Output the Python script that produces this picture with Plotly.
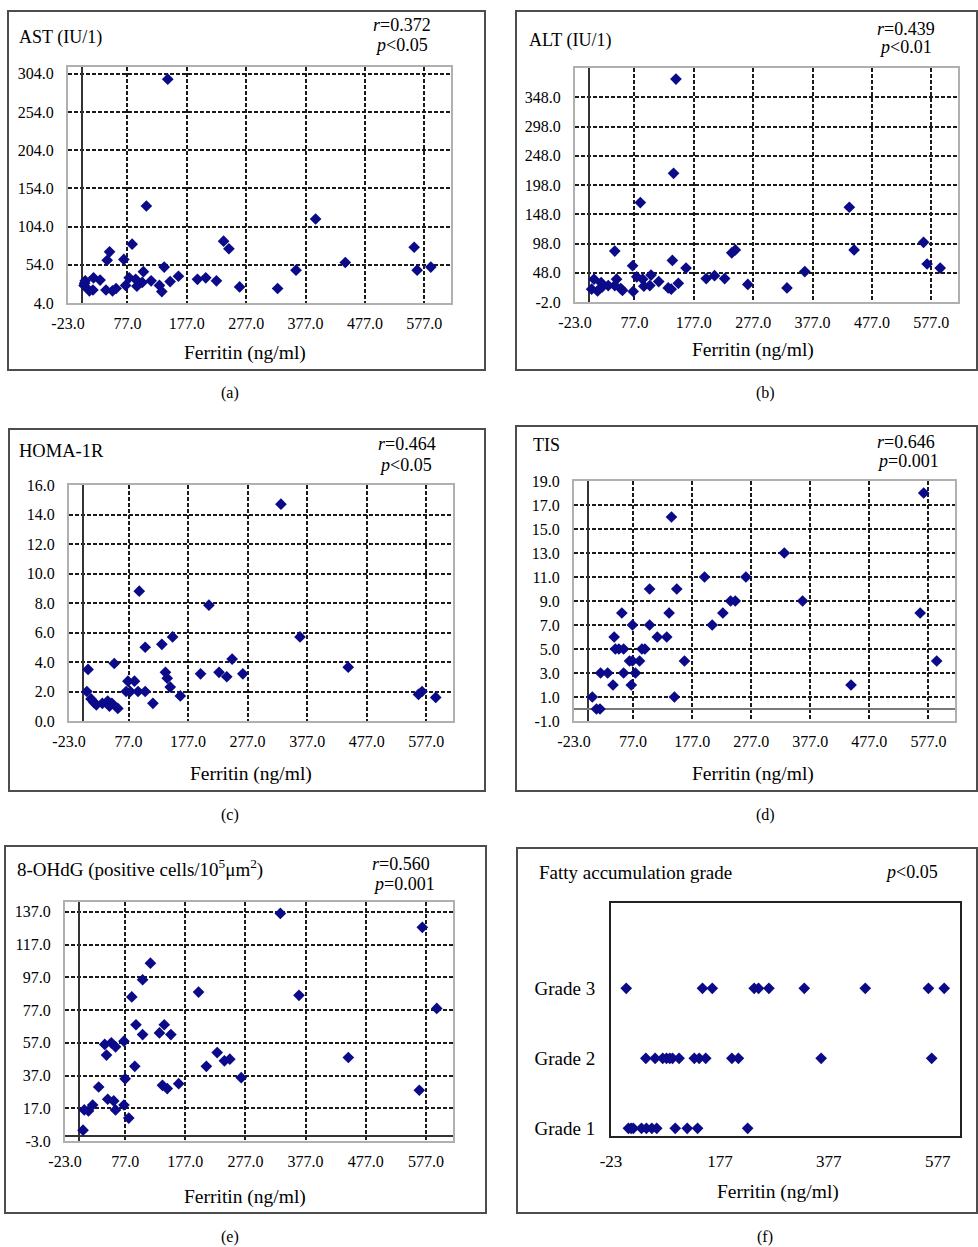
import plotly.graph_objects as go

W, H = 978, 1247
FONT = "Liberation Serif"
MARK = "#0b0b8a"

# ---------------- data ----------------
x_ticks = [-23, 77, 177, 277, 377, 477, 577]

ast_ferritin = [145, 109, 394, 85, 47, 43, 71, 239, 248, 560, 444, 139, 361, 565, 588, 163, 149, 195, 209, 227,
                266, 330, 104, 80, 91, 102, 117, 93, 74, 131, 135, 20, 31, 6, 4, 13, 19, 41, 52, 58, 5]
ast_values = [297, 131, 114, 81, 71, 60, 61, 85, 75, 77, 57, 51, 47, 47, 51, 39, 32, 35, 37, 33,
              25, 23, 45, 37, 35, 31, 33, 26, 27, 27, 19, 37, 34, 33, 27, 20, 21, 21, 20, 23, 30]
ast_ticks = [4, 54, 104, 154, 204, 254, 304]

alt_ferritin = [147, 143, 87, 439, 564, 447, 247, 241, 44, 141, 570, 592, 164, 74, 364, 198, 212, 229, 268, 334,
                151, 134, 139, 105, 118, 81, 91, 93, 103, 75, 47, 44, 54, 57, 33, 21, 9, 5, 15, 23]
alt_values = [379, 218, 168, 160, 100, 87, 87, 82, 85, 69, 63, 56, 56, 60, 50, 38, 43, 38, 28, 22,
              30, 22, 20, 44, 33, 41, 37, 25, 26, 16, 37, 26, 21, 18, 26, 31, 37, 20, 17, 24]
alt_ticks = [-2, 48, 98, 148, 198, 248, 298, 348]

homa_ferritin = [333, 95, 212, 365, 151, 133, 105, 251, 446, 53, 9, 139, 142, 198, 229, 242, 269, 147, 164,
                 118, 76, 87, 73, 80, 93, 105, 7, 564, 570, 593, 14, 19, 23, 33, 42, 45, 49, 59]
homa_values = [14.7, 8.8, 7.85, 5.7, 5.7, 5.2, 5.0, 4.2, 3.65, 3.9, 3.5, 3.3, 2.9, 3.2, 3.3, 3.0, 3.2, 2.3, 1.7,
               1.2, 2.7, 2.7, 2.0, 2.0, 2.0, 2.0, 2.0, 1.8, 2.0, 1.6, 1.5, 1.25, 1.1, 1.2, 1.35, 1.0, 1.2, 0.85]
homa_ticks = [0, 2, 4, 6, 8, 10, 12, 14, 16]

tis_ferritin = [569, 142, 333, 198, 268, 105, 151, 242, 250, 364, 58, 138, 229, 563, 76, 105, 211, 45, 118, 134,
                47, 53, 61, 92, 97, 71, 76, 88, 164, 591, 22, 34, 61, 81, 43, 74, 446, 8, 147, 15, 21]
tis_values = [18, 16, 13, 11, 11, 10, 10, 9, 9, 9, 8, 8, 8, 8, 7, 7, 7, 6, 6, 6,
              5, 5, 5, 5, 5, 4, 4, 4, 4, 4, 3, 3, 3, 3, 2, 2, 2, 1, 1, 0, 0]
tis_ticks = [-1, 1, 3, 5, 7, 9, 11, 13, 15, 17, 19]

ohdg_ferritin = [335, 571, 119, 106, 199, 366, 88, 595, 95, 142, 106, 134, 153, 75, 43, 54, 61, 46, 230, 448,
                 242, 251, 212, 93, 270, 77, 139, 147, 166, 33, 566, 48, 58, 61, 75, 83, 23, 16, 9, 7]
ohdg_values = [136, 127.5, 105.6, 95.5, 88, 86, 85, 78, 68, 68, 62, 63, 62, 58, 56, 57, 54.5, 49.5, 51, 48,
               46, 47, 42.6, 42.6, 35.7, 35, 31, 29, 32, 30, 28, 22.5, 21.5, 16, 19, 11, 19, 15.4, 16, 3.6]
ohdg_ticks = [-3, 17, 37, 57, 77, 97, 117, 137]

grade_labels = ["Grade 1", "Grade 2", "Grade 3"]
grade_levels = [1, 2, 3]
grade1_ferritin = [9, 14, 18, 33, 42, 52, 61, 95, 117, 136, 228]
grade2_ferritin = [41, 58, 72, 79, 85, 90, 102, 130, 139, 151, 199, 211, 363, 566]
grade3_ferritin = [5, 145, 163, 240, 248, 267, 332, 444, 560, 589]
fatty_x_ticks = [-23, 177, 377, 577]

# ---------------- helpers ----------------
def px(x):
    return x / W


def py(y):
    return 1 - y / H


def fmt1(vals):
    return [f"{v:.1f}" for v in vals]


fig = go.Figure()
annotations = []
shapes = []


def add_text(text, x, y, size=18, xanchor="left", yanchor="middle"):
    annotations.append(dict(text=text, x=px(x), y=py(y), xref="paper", yref="paper",
                            xanchor=xanchor, yanchor=yanchor, showarrow=False,
                            font=dict(family=FONT, size=size, color="black")))


def frame(x0, y0, x1, y1):
    shapes.append(dict(type="rect", xref="paper", yref="paper",
                       x0=px(x0), x1=px(x1), y0=py(y1), y1=py(y0),
                       line=dict(color="#4d4d4d", width=2), layer="above"))


def scatter_panel(idx, xs, ys, yticks, yrange, box, yzero=None):
    l, t, r, b = box
    xa = "xaxis" if idx == 1 else f"xaxis{idx}"
    ya = "yaxis" if idx == 1 else f"yaxis{idx}"
    xref = "x" if idx == 1 else f"x{idx}"
    yref = "y" if idx == 1 else f"y{idx}"
    fig.add_trace(go.Scatter(x=xs, y=ys, mode="markers", xaxis=xref, yaxis=yref,
                             marker=dict(symbol="diamond", size=9, color=MARK),
                             showlegend=False, hoverinfo="skip"))
    common = dict(showgrid=True, gridcolor="#1a1a1a", gridwidth=1.6, griddash="4px,2px",
                  showline=True, linecolor="#b0b0b0", linewidth=2, mirror=True,
                  ticks="", tickfont=dict(family=FONT, size=16, color="black"))
    fig.update_layout(**{
        xa: dict(domain=[px(l), px(r)], range=[-23, 622], tickvals=x_ticks,
                 ticktext=fmt1(x_ticks),
                 zeroline=True, zerolinecolor="#333333", zerolinewidth=1.6,
                 anchor=yref, ticklabelstandoff=5, **common),
        ya: dict(domain=[py(b), py(t)], range=yrange, tickvals=yticks,
                 ticktext=fmt1(yticks),
                 zeroline=yzero is not None,
                 zerolinecolor=(yzero or "#333333"), zerolinewidth=2,
                 anchor=xref, ticklabelstandoff=9, **common),
    })


# ---------------- panels ----------------
scatter_panel(1, ast_ferritin, ast_values, ast_ticks, [4, 313], (68, 67, 451, 303))
scatter_panel(2, alt_ferritin, alt_values, alt_ticks, [-2, 398], (575, 68, 958, 302))
scatter_panel(3, homa_ferritin, homa_values, homa_ticks, [0, 16], (69, 485, 453, 721))
scatter_panel(4, tis_ferritin, tis_values, tis_ticks, [-1, 19], (574, 481, 955, 721), yzero="#7a7a7a")
scatter_panel(5, ohdg_ferritin, ohdg_values, ohdg_ticks, [-3, 143], (65, 902, 453, 1141), yzero="#333333")

# panel f: fatty accumulation grade
for xs, lvl in zip([grade1_ferritin, grade2_ferritin, grade3_ferritin], grade_levels):
    fig.add_trace(go.Scatter(x=xs, y=[lvl] * len(xs), mode="markers", xaxis="x6", yaxis="y6",
                             marker=dict(symbol="diamond", size=9, color=MARK),
                             showlegend=False, hoverinfo="skip"))
fig.update_layout(
    xaxis6=dict(domain=[px(611), px(960)], range=[-23, 618], tickvals=fatty_x_ticks,
                ticktext=[str(v) for v in fatty_x_ticks],
                showgrid=False, zeroline=False, showline=True, linecolor="#222", linewidth=2,
                mirror=True, ticks="", anchor="y6", ticklabelstandoff=9,
                tickfont=dict(family=FONT, size=17, color="black")),
    yaxis6=dict(domain=[py(1136), py(903)], range=[0.89, 4.22], tickvals=grade_levels,
                ticktext=grade_labels, showgrid=False, zeroline=False, showline=True,
                linecolor="#222", linewidth=2, mirror=True, ticks="", anchor="x6",
                ticklabelstandoff=10, tickfont=dict(family=FONT, size=19, color="black")),
)

# ---------------- frames ----------------
frame(8, 11, 485, 370)
frame(516, 11, 977, 370)
frame(9, 429, 485, 791)
frame(516, 426, 977, 791)
frame(5, 846, 486, 1213)
frame(517, 848, 977, 1213)

# ---------------- texts ----------------
add_text("AST (IU/1)", 17, 37, size=18)
add_text("<i>r</i>=0.372", 371, 25)
add_text("<i>p</i><0.05", 373, 45)
add_text("Ferritin (ng/ml)", 245, 353, size=19.5, xanchor="center")
add_text("(a)", 230, 393, size=16, xanchor="center")

add_text("ALT (IU/1)", 527, 41, size=18)
add_text("<i>r</i>=0.439", 875, 29)
add_text("<i>p</i><0.01", 877, 47)
add_text("Ferritin (ng/ml)", 753, 350, size=19.5, xanchor="center")
add_text("(b)", 765, 393, size=16, xanchor="center")

add_text("HOMA-1R", 17, 451, size=18.5)
add_text("<i>r</i>=0.464", 376, 444)
add_text("<i>p</i><0.05", 377, 465)
add_text("Ferritin (ng/ml)", 251, 774, size=19.5, xanchor="center")
add_text("(c)", 230, 815, size=16, xanchor="center")

add_text("TIS", 531, 445, size=18)
add_text("<i>r</i>=0.646", 875, 442)
add_text("<i>p</i>=0.001", 875, 461)
add_text("Ferritin (ng/ml)", 753, 774, size=19.5, xanchor="center")
add_text("(d)", 765, 815, size=16, xanchor="center")

add_text("8-OHdG (positive cells/10<sup>5</sup>μm<sup>2</sup>)", 15, 868, size=19)
add_text("<i>r</i>=0.560", 370, 864)
add_text("<i>p</i>=0.001", 371, 884)
add_text("Ferritin (ng/ml)", 245, 1197, size=19.5, xanchor="center")
add_text("(e)", 230, 1237, size=16, xanchor="center")

add_text("Fatty accumulation grade", 537, 872, size=19)
add_text("<i>p</i><0.05", 883, 872)
add_text("Ferritin (ng/ml)", 778, 1192, size=19.5, xanchor="center")
add_text("(f)", 765, 1237, size=16, xanchor="center")

fig.update_layout(width=W, height=H, autosize=False,
                  margin=dict(l=0, r=0, t=0, b=0, pad=0, autoexpand=False),
                  paper_bgcolor="white", plot_bgcolor="white",
                  annotations=annotations, shapes=shapes)

fig.write_html("out.html", config={"displayModeBar": False},
               post_script="document.body.style.margin='0';document.body.style.overflow='hidden';")
